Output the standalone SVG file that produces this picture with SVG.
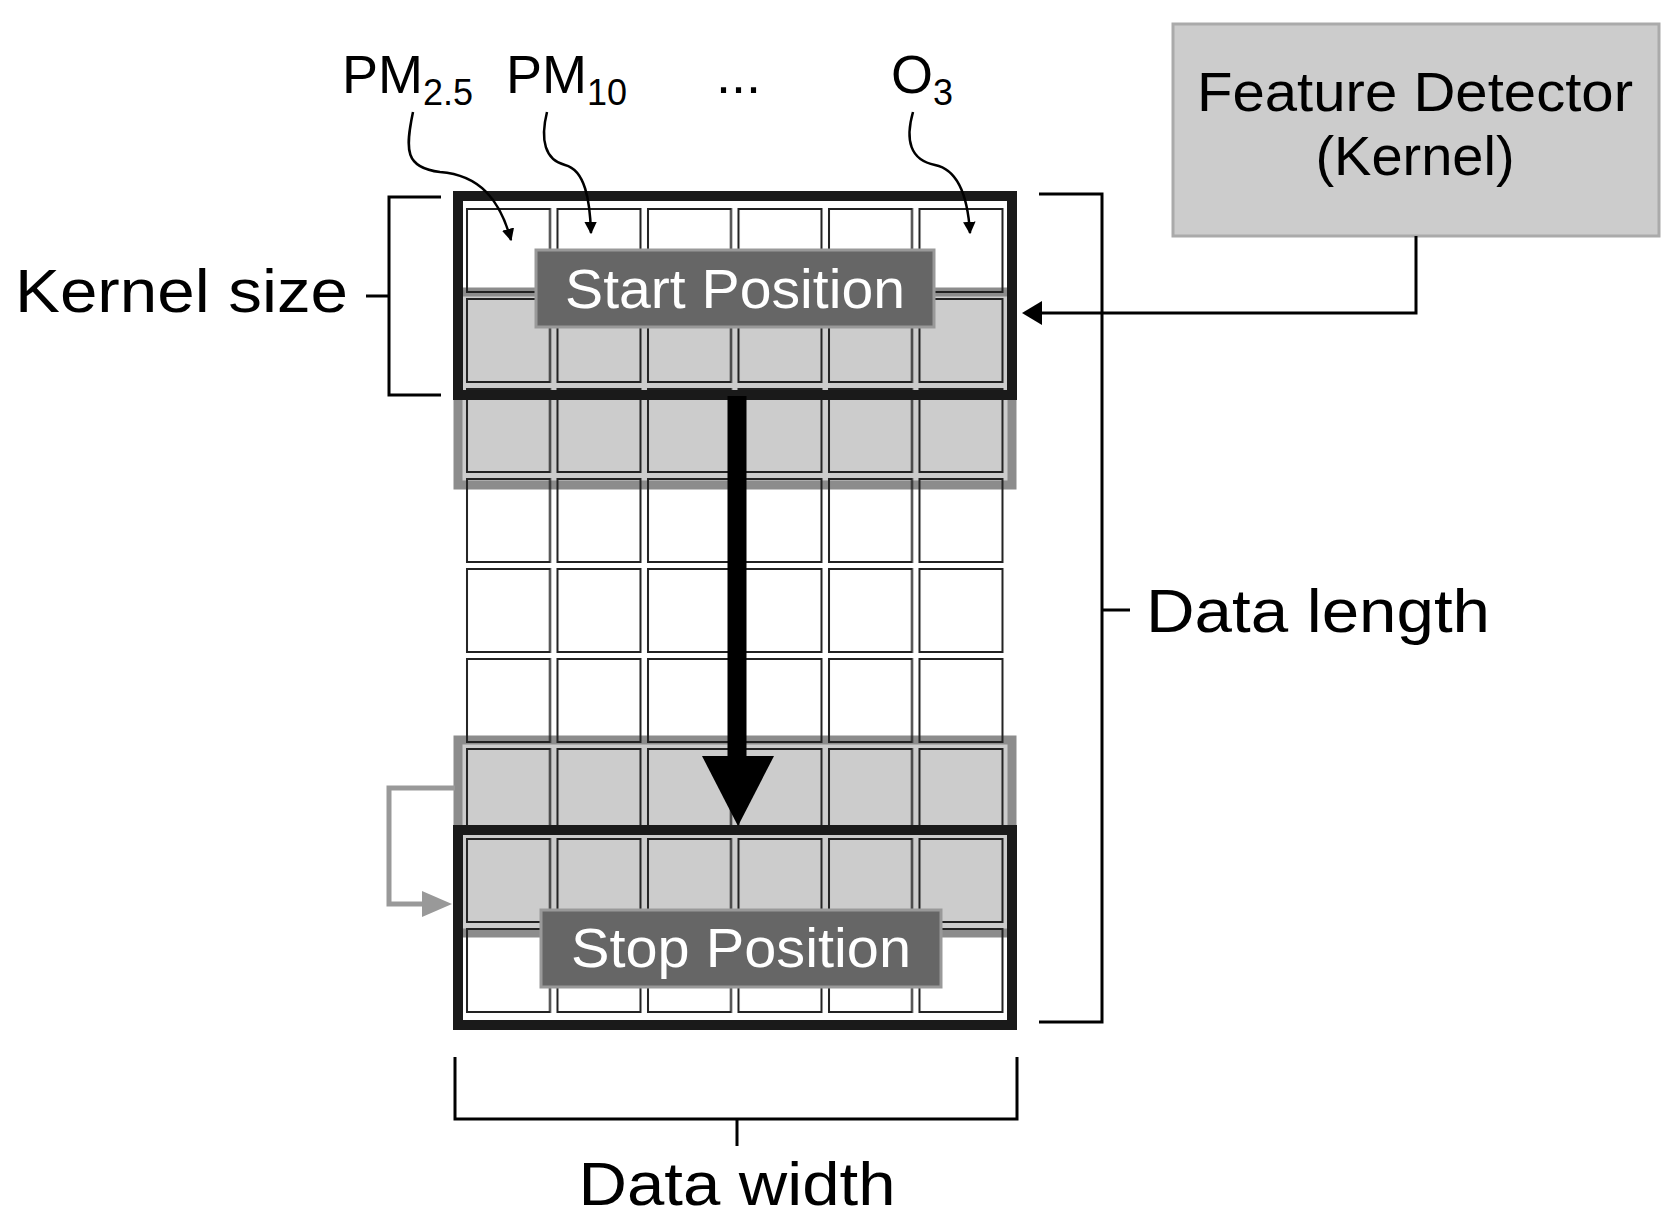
<svg xmlns="http://www.w3.org/2000/svg" width="1678" height="1222" viewBox="0 0 1678 1222">
<style>
text{font-family:"Liberation Sans",Arial,sans-serif;fill:#000}
.cell{fill:none;stroke:#222;stroke-width:2}
.gk{fill:#ccc;stroke:#8c8c8c;stroke-width:9}
.bk{fill:none;stroke:#1a1a1a;stroke-width:10}
.lbl{fill:#666;stroke:#999;stroke-width:3}
.br{fill:none;stroke:#000;stroke-width:3}
.thin{fill:none;stroke:#000;stroke-width:2.5}
</style>
<defs>
<marker id="ah" viewBox="0 0 10 10" refX="9" refY="5" markerWidth="5" markerHeight="5" orient="auto"><path d="M0,0L10,5L0,10z" fill="#000"/></marker>
<pattern id="grid" x="463" y="205" width="90.5" height="90" patternUnits="userSpaceOnUse"><rect x="4" y="4" width="83" height="83" class="cell"/></pattern>
</defs>
<g id="kernel-start-gray"><rect x="458" y="292" width="554" height="193" class="gk"/></g>
<g id="kernel-stop-gray"><rect x="458" y="740" width="554" height="193" class="gk"/></g>
<g id="grid-cells"><rect x="463" y="205" width="543" height="810" fill="url(#grid)"/></g>
<g id="kernel-start"><rect x="458" y="196" width="554" height="199" class="bk"/></g>
<g id="kernel-stop"><rect x="458" y="830" width="554" height="195" class="bk"/></g>
<g id="start-label"><rect x="536" y="250" width="398" height="77" class="lbl"/><text x="735" y="308" font-size="56" text-anchor="middle" style="fill:#fff" textLength="340" lengthAdjust="spacingAndGlyphs">Start Position</text></g>
<g id="stop-label"><rect x="541" y="910" width="400" height="77" class="lbl"/><text x="741" y="967" font-size="56" text-anchor="middle" style="fill:#fff" textLength="340" lengthAdjust="spacingAndGlyphs">Stop Position</text></g>
<g id="feature-detector"><rect x="1173" y="24" width="486" height="212" fill="#ccc" stroke="#aaa" stroke-width="3"/><text x="1415" y="111" font-size="56" text-anchor="middle" textLength="436" lengthAdjust="spacingAndGlyphs">Feature Detector</text><text x="1415" y="175" font-size="56" text-anchor="middle">(Kernel)</text></g>
<g id="labels">
<text x="342" y="93" font-size="54">PM<tspan font-size="36" dy="12">2.5</tspan></text>
<text x="506" y="93" font-size="54">PM<tspan font-size="36" dy="12">10</tspan></text>
<text x="716" y="93" font-size="54">...</text>
<text x="891" y="93" font-size="54">O<tspan font-size="36" dy="12">3</tspan></text>
<text x="15" y="312" font-size="62" textLength="333" lengthAdjust="spacingAndGlyphs">Kernel size</text>
<text x="1146" y="632" font-size="62" textLength="344" lengthAdjust="spacingAndGlyphs">Data length</text>
<text x="737" y="1205" font-size="62" text-anchor="middle" textLength="317" lengthAdjust="spacingAndGlyphs">Data width</text>
</g>
<g id="connectors">
<path d="M737,396V756" stroke="#000" stroke-width="19" fill="none"/>
<path d="M702,756H774L738,826z" fill="#000"/>
<path d="M1416,236V313H1030" class="br"/>
<path d="M1022,313l20,-12v24z" fill="#000"/>
<path d="M413,112C405,150 405,168 440,172C480,175 500,200 511,240" class="thin" marker-end="url(#ah)"/>
<path d="M547,112C540,140 545,160 565,165C585,170 590,200 591,233" class="thin" marker-end="url(#ah)"/>
<path d="M913,112C905,140 910,160 935,165C960,170 968,200 970,233" class="thin" marker-end="url(#ah)"/>
<path d="M455,788H389V904H430" fill="none" stroke="#999" stroke-width="5"/>
<path d="M452,904l-30,-13v26z" fill="#999"/>
<path d="M441,197H389V395H441M389,296H366" class="br"/>
<path d="M1039,194H1102V1022H1039M1102,610H1130" class="br"/>
<path d="M455,1057V1119H1017V1057M737,1119V1146" class="br"/>
</g>
</svg>
